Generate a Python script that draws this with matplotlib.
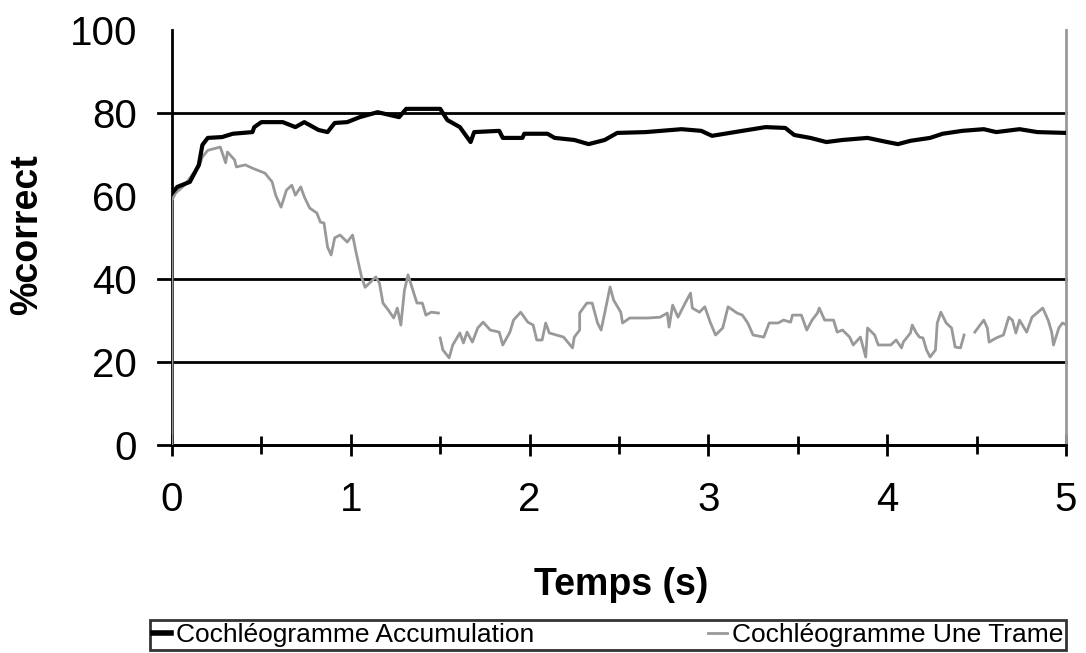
import matplotlib.pyplot as plt
from matplotlib.lines import Line2D
import numpy as np

plt.rcParams['font.family'] = ['Liberation Sans', 'DejaVu Sans']

# Cochléogramme Accumulation (black)
acc_t = [0.00, 0.03, 0.10, 0.15, 0.17, 0.20, 0.28, 0.34, 0.45, 0.46, 0.50,
         0.62, 0.69, 0.74, 0.82, 0.87, 0.91, 0.98, 1.05, 1.15, 1.27, 1.31,
         1.50, 1.54, 1.61, 1.67, 1.69, 1.83, 1.85, 1.96, 1.97, 2.10, 2.14,
         2.25, 2.33, 2.42, 2.49, 2.65, 2.85, 2.96, 3.02, 3.19, 3.32, 3.43,
         3.48, 3.57, 3.66, 3.75, 3.89, 4.00, 4.06, 4.13, 4.24, 4.31, 4.42,
         4.54, 4.61, 4.74, 4.84, 5.00]
acc_v = [60.7, 62.2, 63.4, 67.5, 72.3, 74.0, 74.2, 75.0, 75.4, 76.6, 77.8,
         77.8, 76.6, 77.8, 75.9, 75.4, 77.6, 77.8, 79.0, 80.2, 79.0, 81.0,
         81.0, 78.3, 76.6, 73.0, 75.4, 75.7, 74.0, 74.0, 75.0, 75.0, 74.0,
         73.5, 72.5, 73.5, 75.2, 75.4, 76.1, 75.7, 74.5, 75.7, 76.6, 76.4,
         74.7, 74.0, 73.0, 73.5, 74.0, 73.0, 72.5, 73.3, 74.0, 75.0, 75.7,
         76.1, 75.4, 76.1, 75.4, 75.2]

# Cochléogramme Une Trame (grey); nan = break in the curve
une_t = [0.00, 0.00, 0.02, 0.07, 0.12, 0.15, 0.17, 0.20, 0.27, 0.30, 0.31,
         0.35, 0.36, 0.41, 0.45, 0.52, 0.56, 0.58, 0.61, 0.64, 0.67, 0.69,
         0.72, 0.74, 0.77, 0.81, 0.83, 0.85, 0.87, 0.89, 0.91, 0.94, 0.98,
         1.01, 1.03, 1.06, 1.08, 1.14, 1.16, 1.18, 1.21, 1.24, 1.26, 1.28,
         1.30, 1.32, 1.35, 1.37, 1.40, 1.42, 1.45, 1.49, 1.495,
         1.50, 1.515, 1.55, 1.57, 1.61, 1.63, 1.65, 1.68, 1.71, 1.74, 1.78,
         1.83, 1.85, 1.89, 1.91, 1.95, 1.99, 2.02, 2.04, 2.07, 2.09, 2.11,
         2.15, 2.19, 2.24, 2.25, 2.28, 2.28, 2.32, 2.35, 2.38, 2.40, 2.42,
         2.45, 2.47, 2.51, 2.52, 2.56, 2.66, 2.73, 2.77, 2.78, 2.80, 2.83,
         2.87, 2.90, 2.91, 2.95, 2.98, 3.01, 3.04, 3.08, 3.11, 3.16, 3.19,
         3.22, 3.25, 3.31, 3.34, 3.39, 3.42, 3.46, 3.47, 3.52, 3.55, 3.58,
         3.61, 3.62, 3.65, 3.70, 3.72, 3.75, 3.79, 3.81, 3.85, 3.88, 3.89,
         3.93, 3.95, 4.02, 4.05, 4.08, 4.09, 4.13, 4.14, 4.16, 4.18, 4.20,
         4.22, 4.24, 4.27, 4.28, 4.30, 4.33, 4.36, 4.38, 4.41, 4.43, 4.44,
         4.45, 4.47, 4.49, 4.54, 4.56, 4.57, 4.61, 4.65, 4.68, 4.70, 4.72,
         4.74, 4.78, 4.81, 4.87, 4.90, 4.92, 4.93, 4.96, 4.98, 5.00]
une_v = [0.0, 59.0, 60.7, 62.6, 65.5, 67.0, 69.4, 71.0, 71.8, 68.0, 70.6,
         68.7, 67.0, 67.5, 66.7, 65.5, 63.4, 60.2, 57.3, 61.4, 62.6, 60.2,
         62.2, 59.8, 57.1, 55.9, 53.7, 53.5, 47.7, 45.8, 49.9, 50.6, 48.9,
         50.6, 46.3, 40.5, 38.0, 40.5, 39.0, 34.2, 32.5, 30.6, 33.0, 28.9,
         37.3, 41.0, 36.9, 34.2, 34.2, 31.3, 32.0, 31.8, np.nan,
         25.8, 22.9, 21.0, 24.1, 27.0, 24.6, 27.2, 24.8, 28.2, 29.6, 27.7,
         27.2, 24.1, 27.2, 30.1, 32.0, 29.6, 28.9, 25.3, 25.3, 29.4, 27.0,
         26.5, 26.0, 23.4, 26.0, 27.7, 31.8, 34.2, 34.2, 29.4, 27.7, 31.8,
         38.1, 34.9, 32.0, 29.4, 30.6, 30.6, 30.8, 31.8, 28.4, 33.7, 30.8,
         34.2, 36.6, 33.0, 32.0, 33.3, 29.6, 26.5, 28.2, 33.3, 31.8, 31.3,
         29.4, 26.5, 26.0, 29.4, 29.4, 30.1, 29.6, 31.3, 31.3, 27.7, 30.1,
         31.8, 33.0, 30.1, 30.1, 27.2, 27.7, 26.0, 24.1, 26.0, 21.2, 28.2,
         26.5, 24.1, 24.1, 25.3, 23.4, 24.8, 27.0, 28.9, 27.2, 26.0, 25.8,
         22.9, 21.2, 22.9, 29.4, 32.0, 29.4, 28.2, 23.6, 23.4, 26.5, np.nan,
         22.4, np.nan, 27.2, 30.1, 28.2, 24.8, 25.8, 26.5, 30.8, 30.1, 27.0,
         30.1, 27.2, 30.8, 33.0, 30.1, 27.2, 24.1, 28.2, 29.4, 29.0]

x_ticks = [0, 1, 2, 3, 4, 5]
y_ticks = [0, 20, 40, 60, 80, 100]
grid_at = [0, 20, 40, 80]

fig = plt.figure(figsize=(10.86, 6.53), dpi=100)
ax = fig.add_axes([172 / 1086, 1 - 445 / 653, 894 / 1086, 415 / 653])

for g in grid_at:
    ax.plot([-14 / 894, 1], [g, g], color='black', lw=2,
            transform=ax.get_yaxis_transform(), clip_on=False, zorder=1)

ax.plot(une_t, une_v, color='#999999', lw=2, zorder=3)
ax.plot(acc_t, acc_v, color='black', lw=3, zorder=4)

ax.set_xlim(0, 5)
ax.set_ylim(0, 100)
ax.set_xticks(x_ticks)
ax.set_xticks(np.arange(0.5, 5, 1), minor=True)
ax.set_yticks(y_ticks)
ax.tick_params(axis='x', which='major', direction='inout', length=16,
               width=2, labelsize=29, pad=18)
ax.tick_params(axis='x', which='minor', direction='inout', length=13, width=2)
ax.tick_params(axis='y', length=0, labelsize=29, pad=25)

ax.spines['top'].set_visible(False)
ax.spines['left'].set_linewidth(2)
ax.spines['bottom'].set_linewidth(2)
ax.spines['right'].set_color('#999999')
ax.spines['right'].set_linewidth(2)

ax.set_ylabel('%correct', fontsize=27, fontweight='bold')
ax.yaxis.set_label_coords(-0.142, 0.506)
ax.set_xlabel('Temps (s)', fontsize=27, fontweight='bold')
ax.xaxis.set_label_coords(0.502, -0.293)

handles = [Line2D([], [], color='black', lw=4),
           Line2D([], [], color='#999999', lw=2)]
leg = fig.legend(handles, ['Cochléogramme Accumulation', 'Cochléogramme Une Trame'],
                 loc='upper left',
                 bbox_to_anchor=(150 / 1086, 1 - 621 / 653, 916 / 1086, 0.001),
                 mode='expand', ncol=2, fontsize=19, frameon=True, fancybox=False,
                 handlelength=0.7, handletextpad=0.2, columnspacing=1.6,
                 borderpad=0.1, borderaxespad=0)
leg.get_frame().set_edgecolor('black')
leg.get_frame().set_linewidth(2)

fig.savefig('out.png', dpi=100)
